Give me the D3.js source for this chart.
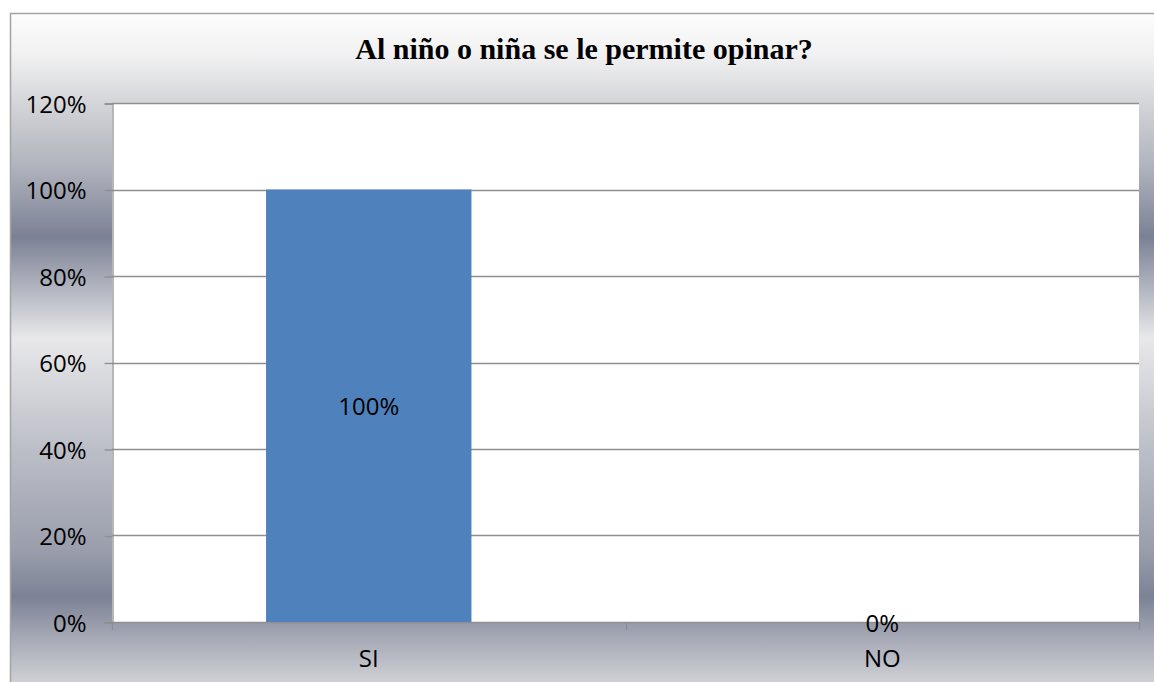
<!DOCTYPE html>
<html>
<head>
<meta charset="utf-8">
<script src="https://cdn.jsdelivr.net/npm/d3@7/dist/d3.min.js"></script>
<style>
  html, body { margin: 0; padding: 0; background: #fff; overflow: hidden; }
  svg { display: block; }
  .lbl { font-family: "Open Sans", sans-serif; font-size: 24px; fill: #000; }
</style>
</head>
<body>
<script>
var categories = ['SI', 'NO'];
var values = [1.0, 0.0];
var yTicks = [0, 0.2, 0.4, 0.6, 0.8, 1.0, 1.2];
var title = 'Al niño o niña se le permite opinar?';

var width = 1154,
    height = 682;

var plot = {left: 112, right: 1139, top: 103, bottom: 622};

var svg = d3.select('body').append('svg')
    .attr('width', width)
    .attr('height', height);

// background gradient (vertical bands, grey-blue)
var grad = svg.append('defs').append('linearGradient')
    .attr('id', 'bg')
    .attr('gradientUnits', 'userSpaceOnUse')
    .attr('x1', 0).attr('y1', 13).attr('x2', 0).attr('y2', 690);

var stops = [
    [13, '#fdfdfd'], [55, '#f1f1f2'], [103, '#d4d5d9'], [170, '#aeb1bb'],
    [237, '#7b8195'], [290, '#b4b7c1'], [338, '#e8e8ea'], [450, '#bcbec7'],
    [550, '#9a9eac'], [597, '#7c8296'], [640, '#a8abb7'], [690, '#d6d7da']
];
stops.forEach(function(s){
    grad.append('stop')
        .attr('offset', (s[0] - 13) / (690 - 13))
        .attr('stop-color', s[1]);
});

svg.append('rect')
    .attr('x', 10.5).attr('y', 13.5)
    .attr('width', 1160).attr('height', 700)
    .attr('fill', 'url(#bg)')
    .attr('stroke', '#a3a3a3')
    .attr('stroke-width', 1.5);

// plot area
svg.append('rect')
    .attr('x', plot.left).attr('y', plot.top)
    .attr('width', plot.right - plot.left)
    .attr('height', plot.bottom - plot.top)
    .attr('fill', '#fff');

var x = d3.scaleBand()
    .domain(categories)
    .range([plot.left, plot.right])
    .paddingInner(0.6)
    .paddingOuter(0.3);

var y = d3.scaleLinear()
    .domain([0, 1.2])
    .range([plot.bottom, plot.top]);

// gridlines
svg.append('g')
    .selectAll('line')
    .data(yTicks)
    .enter().append('line')
    .attr('x1', plot.left).attr('x2', plot.right)
    .attr('y1', function(d){ return Math.round(y(d)) + 0.5; })
    .attr('y2', function(d){ return Math.round(y(d)) + 0.5; })
    .attr('stroke', '#8f8f8f')
    .attr('stroke-width', 1.3);

// bars
svg.append('g')
    .selectAll('rect')
    .data(values)
    .enter().append('rect')
    .attr('x', function(d, i){ return x(categories[i]); })
    .attr('y', function(d){ return y(d); })
    .attr('width', x.bandwidth())
    .attr('height', function(d){ return y(0) - y(d); })
    .attr('fill', '#4f81bd');

// y axis
var yAxis = d3.axisLeft(y)
    .tickValues(yTicks)
    .tickFormat(d3.format('.0%'))
    .tickSize(8)
    .tickPadding(18);

var gy = svg.append('g')
    .attr('transform', 'translate(' + (plot.left + 0.5) + ',0.5)')
    .call(yAxis);
gy.select('.domain').attr('stroke', '#8f8f8f').attr('stroke-width', 1.3);
gy.selectAll('.tick line').attr('stroke', '#8f8f8f').attr('stroke-width', 1.3);
gy.selectAll('.tick text')
    .attr('class', 'lbl')
    .attr('font-family', null).attr('font-size', null)
    .attr('dy', '0.36em');

// x axis: category ticks at band boundaries
var xBounds = [plot.left, (plot.left + plot.right) / 2, plot.right];
svg.append('g')
    .selectAll('line')
    .data(xBounds)
    .enter().append('line')
    .attr('x1', function(d){ return Math.round(d) + 0.5; })
    .attr('x2', function(d){ return Math.round(d) + 0.5; })
    .attr('y1', plot.bottom).attr('y2', plot.bottom + 8)
    .attr('stroke', '#8f8f8f')
    .attr('stroke-width', 1.3);

svg.append('g')
    .selectAll('text')
    .data(categories)
    .enter().append('text')
    .attr('class', 'lbl')
    .attr('x', function(d){ return x(d) + x.bandwidth() / 2; })
    .attr('y', plot.bottom + 45)
    .attr('text-anchor', 'middle')
    .text(function(d){ return d; });

// data labels
svg.append('g')
    .selectAll('text')
    .data(values)
    .enter().append('text')
    .attr('class', 'lbl')
    .attr('x', function(d, i){ return x(categories[i]) + x.bandwidth() / 2; })
    .attr('y', function(d){
        return d > 0 ? (y(d) + y(0)) / 2 + 9 : y(0) + 10;
    })
    .attr('text-anchor', 'middle')
    .text(function(d){ return d3.format('.0%')(d); });

// title
svg.append('text')
    .attr('x', 584)
    .attr('y', 59)
    .attr('text-anchor', 'middle')
    .style('font-family', '"Liberation Serif", "Times New Roman", serif')
    .style('font-weight', 'bold')
    .style('font-size', '30px')
    .text(title);
</script>
</body>
</html>
